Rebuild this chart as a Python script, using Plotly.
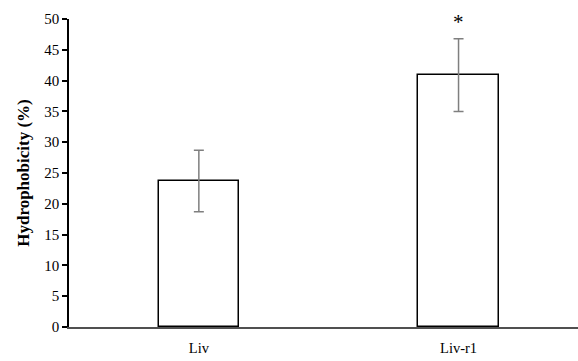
import plotly.graph_objects as go

categories = ["Liv", "Liv-r1"]
values = [23.7, 40.9]
errors = [5.0, 5.9]
y_ticks = [0, 5, 10, 15, 20, 25, 30, 35, 40, 45, 50]
marks = ["", "*"]

font = "Liberation Serif"

fig = go.Figure()
fig.add_trace(go.Bar(
    x=[0, 1], y=values, width=0.31,
    marker=dict(color="white", line=dict(color="black", width=1.5)),
    error_y=dict(type="data", array=errors, visible=True, color="#7f7f7f", thickness=1.5, width=5),
))
for i, m in enumerate(marks):
    if m:
        fig.add_annotation(x=i, y=values[i] + errors[i], text=m, showarrow=False,
                           yshift=17, font=dict(family=font, size=21, color="black"))

fig.update_layout(
    width=578, height=361,
    margin=dict(l=69, r=0, t=19, b=34, autoexpand=False),
    paper_bgcolor="white", plot_bgcolor="white",
    showlegend=False,
    font=dict(family=font, size=15, color="black"),
    bargap=0,
)
fig.update_xaxes(
    range=[-0.5, 1.46], tickvals=[0, 1], ticktext=categories,
    showline=True, linecolor="#505050", linewidth=1.5, ticks="",
    showgrid=False, zeroline=False, tickfont=dict(size=14.5), automargin=False,
    ticklabelstandoff=7,
)
fig.update_yaxes(
    range=[0, 50], tickvals=y_ticks, showline=True, linecolor="black", linewidth=1.5,
    ticks="outside", ticklen=5, tickwidth=1.5, tickcolor="black",
    showgrid=False, zeroline=False, automargin=False,
    title=dict(text="<b>Hydrophobicity (%)</b>", font=dict(size=17), standoff=10),
    tickfont=dict(size=15),
)
fig.write_html("out.html", config={"displayModeBar": False},
               post_script="document.body.style.margin='0';document.body.style.overflow='hidden';")
